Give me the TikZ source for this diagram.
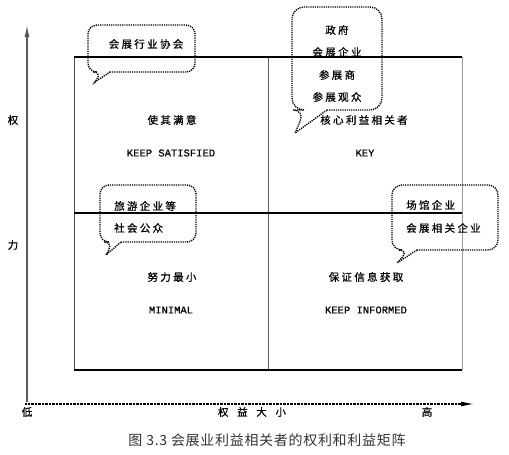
\documentclass[tikz,border=0pt]{standalone}
\usepackage{fontspec}
\setmainfont[FakeBold=0.4]{Liberation Mono}
\newfontfamily\cjk[LetterSpace=22, FakeBold=0.6]{Noto Sans CJK SC}
\newfontfamily\capfont[LetterSpace=5]{Noto Sans CJK SC}
\usetikzlibrary{arrows.meta}

\begin{document}
\begin{tikzpicture}[x=1pt, y=-1pt, every node/.style={font=\cjk\fontsize{10.5}{12}\selectfont, inner sep=0pt},
    eng/.style={font=\fontsize{10.5}{12}\selectfont},
    bubble/.style={line width=1.4pt, dash pattern=on 1.2pt off 1pt}]
    \useasboundingbox (0,0) rectangle (509,455);

    % Оси
    \coordinate (o) at (27,404);
    \coordinate (ytop) at (27,25);
    \coordinate (xend) at (474,404);
    \draw[black!65, line width=1.3pt, -{Latex[length=12pt,width=5pt]}] (27,402) -- (ytop);
    \draw[line width=1.2pt, dash pattern=on 0.7pt off 0.7pt, -{Latex[length=13pt,width=5pt]}] (25,404) -- (xend);

    \node (p1) at (13,120) {权};
    \node (p2) at (13,245) {力};
    \node (low) at (27,412) {低};
    \node (ilab) at (252,412) {权\hspace{4pt} 益\hspace{4pt} 大\hspace{4pt} 小};
    \node (high) at (427,412) {高};

    % Матрица
    \coordinate (tl) at (74,57);
    \coordinate (tr) at (462,57);
    \coordinate (ml) at (74,213);
    \coordinate (mr) at (462,213);
    \coordinate (bl) at (74,370);
    \coordinate (br) at (462,370);
    \coordinate (mt) at (268,57);
    \coordinate (mb) at (268,370);
    \draw[black!70, line width=0.9pt] (tl) -- (bl);
    \draw[black!65, line width=0.9pt] (mt) -- (mb);
    \draw[black!40, line width=1pt] (tr) -- (br);
    \draw[line width=2pt] (tl) -- (tr);
    \draw[line width=2pt] (ml) -- (mr);
    \draw[line width=2pt] (bl) -- (br);

    % Квадранты
    \node (sat) at (172,120) {使其满意};
    \node[eng] (satEn) at (171,153) {KEEP SATISFIED};
    \node (key) at (364,120) {核心利益相关者};
    \node[eng] (keyEn) at (365,153) {KEY};
    \node (mini) at (172,277) {努力最小};
    \node[eng] (miniEn) at (171,310) {MINIMAL};
    \node (info) at (366,277) {保证信息获取};
    \node[eng] (infoEn) at (366,310) {KEEP INFORMED};

    % Выноски
    \draw[bubble] (110,72) [rounded corners=9pt] -| (195,25) -| (88,72) -- (102,72) [sharp corners] -- (95,82) -- cycle;
    \node (assoc) at (146,44) {会展行业协会};

    \draw[bubble] (327,110) [rounded corners=12pt] -| (382,7) -| (292,110) -- (305,110) [sharp corners] -- (295,133) -- cycle;
    \node (gov) at (337,30) {政府};
    \node (firm) at (337,52) {会展企业};
    \node (exh) at (337,75) {参展商};
    \node (aud) at (337,97) {参展观众};

    \draw[bubble] (121,242) [rounded corners=9pt] -| (196,185) -| (100,242) -- (113,242) [sharp corners] -- (106,255) -- cycle;
    \node[anchor=west] (tour) at (114,206) {旅游企业等};
    \node[anchor=west] (pub) at (114,228) {社会公众};

    \draw[bubble] (417,250) [rounded corners=10pt] -| (498,185) -| (392,250) -- (409,250) [sharp corners] -- (397,263) -- cycle;
    \node[anchor=west] (venue) at (406,205) {场馆企业};
    \node[anchor=west] (rel) at (406,228) {会展相关企业};

    % Подпись
    \node[font=\capfont\fontsize{14}{16}\selectfont, text=black!80] (cap) at (267,440) {图 3.3 会展业利益相关者的权利和利益矩阵};
\end{tikzpicture}
\end{document}
